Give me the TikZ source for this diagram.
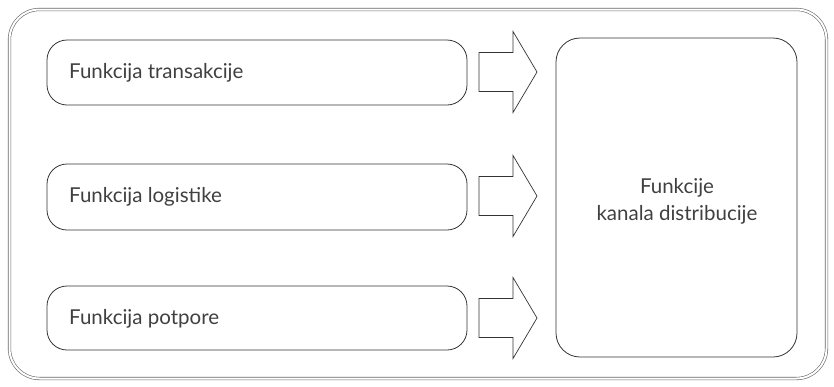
\documentclass[tikz,border=0pt]{standalone}
\usepackage{fontspec}
\setmainfont{Lato}
\begin{document}
\begin{tikzpicture}[x=1pt,y=-1pt,
  fbox/.style={draw=black!80,line width=0.8pt,rounded corners=20pt},
  ftext/.style={font=\fontsize{20.5}{27}\selectfont,text=black!75,inner sep=0pt},
  barrow/.style={draw=black!80,line width=0.7pt,fill=white}]
\useasboundingbox (0,0) rectangle (834,386);
\draw[black!60,line width=0.6pt,double=white,double distance=2pt,rounded corners=30pt] (9.5,9.5) rectangle (826.5,378.5);
\draw[fbox] (47,40) rectangle (467,105);
\draw[fbox] (47,164) rectangle (467,230);
\draw[fbox] (47,286) rectangle (467,350);
\draw[fbox,rounded corners=24pt] (556,38) rectangle (797,357);
\node[ftext,anchor=west] (t1) at (69,73) {Funkcija transakcije};
\node[ftext,anchor=west] (t2) at (69,197) {Funkcija logistike};
\node[ftext,anchor=west] (t3) at (69,319) {Funkcija potpore};
\node[ftext,align=center] (t4) at (677,201) {Funkcije\\kanala distribucije};
\foreach \c/\n in {72/a1,196/a2,318/a3}{
  \draw[barrow] (479,\c-19.5) -- (513,\c-19.5) -- (513,\c-40.5) -- (537,\c) -- (513,\c+40.5) -- (513,\c+19.5) -- (479,\c+19.5) -- cycle;
}
\end{tikzpicture}
\end{document}
